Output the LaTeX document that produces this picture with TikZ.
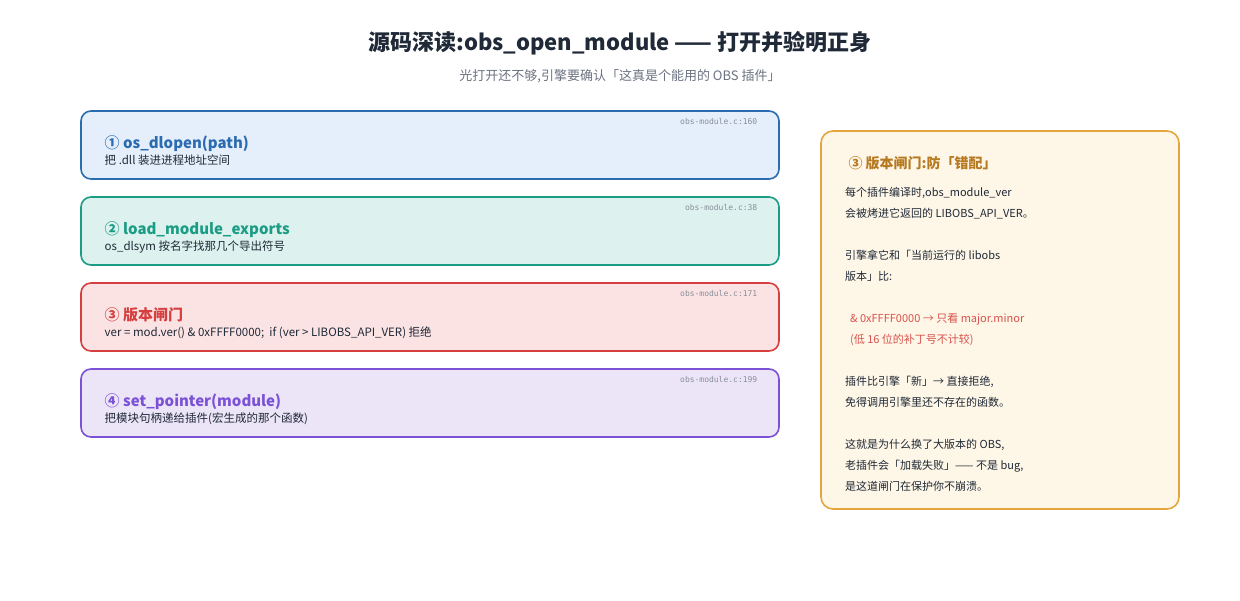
\documentclass[tikz,border=0pt]{standalone}
\usepackage{fontspec}
\setmainfont{Noto Sans CJK SC}
\newfontfamily\codefont{DejaVu Sans Mono}
\usetikzlibrary{positioning}
\definecolor{ink}{HTML}{1F2937}
\definecolor{muted}{HTML}{6B7280}
\definecolor{blueS}{HTML}{2B6CB0}\definecolor{blueF}{HTML}{E4EFFB}
\definecolor{greenS}{HTML}{1B9C84}\definecolor{greenF}{HTML}{DDF2EE}
\definecolor{redS}{HTML}{D63F3F}\definecolor{redF}{HTML}{FBE3E4}
\definecolor{purpS}{HTML}{7B52D6}\definecolor{purpF}{HTML}{ECE5F8}
\definecolor{goldS}{HTML}{E3A63C}\definecolor{goldF}{HTML}{FEF6E6}
\definecolor{goldT}{HTML}{B7791F}
\definecolor{warnT}{HTML}{D9534F}
\begin{document}
\begin{tikzpicture}[x=1pt,y=-1pt,
step/.style = {% left boxes
    draw=#1S, fill=#1F, line width=1.6pt, rounded corners=10pt,
    minimum width=698pt, minimum height=68pt, inner sep=0pt,
            },
ttl/.style  = {anchor=base west, font=\fontsize{15}{18}\selectfont\bfseries, text=#1S},
sub/.style  = {anchor=base west, font=\fontsize{11.5}{14}\selectfont, text=ink},
src/.style  = {anchor=base east, font=\fontsize{8}{10}\codefont, text=muted!80},
                        ]
\useasboundingbox (0,0) rectangle (1240,600);
% heading
\node[font=\fontsize{22}{26}\selectfont\bfseries, text=ink] (head) at (620,43)
  {源码深读:obs\_open\_module —— 打开并验明正身};
\node[font=\fontsize{13}{16}\selectfont, text=muted] (tag) at (620,76)
  {光打开还不够,引擎要确认「这真是个能用的 OBS 插件」};
% steps
\node[step=blue]   (s1) at (430,145) {};
\node[step=green]  (s2) at (430,231) {};
\node[step=red]    (s3) at (430,317) {};
\node[step=purp]   (s4) at (430,403) {};
\foreach \n/\c/\t/\d/\f in {
    s1/blue/{① os\_dlopen(path)}/{把 .dll 装进进程地址空间}/160,
    s2/green/{② load\_module\_exports}/{os\_dlsym 按名字找那几个导出符号}/38,
    s3/red/{③ 版本闸门}/{ver = mod.ver() \& 0xFFFF0000;\ \ if (ver > LIBOBS\_API\_VER) 拒绝}/171,
    s4/purp/{④ set\_pointer(module)}/{把模块句柄递给插件(宏生成的那个函数)}/199}{
  \node[ttl=\c] (\n t) at ([xshift=21pt,yshift=-3pt]\n.west) {\t};
  \node[sub]    (\n d) at ([xshift=21pt,yshift=-19pt]\n.west) {\d};
  \node[src]    (\n f) at ([xshift=-19pt,yshift=-14pt]\n.north east) {obs-module.c:\f};
}
% side note
\node[draw=goldS, fill=goldF, line width=1.6pt, rounded corners=12pt,
      minimum width=358pt, minimum height=378pt] (note) at (1000,320) {};
\node[anchor=base west, font=\fontsize{14}{17}\selectfont\bfseries, text=goldT]
  (notet) at (845,168) {③ 版本闸门:防「错配」};
\node[anchor=north west, align=left, inner sep=0pt, text=ink,
      font=\fontsize{11}{21}\selectfont] (noteb) at (845,187) {%
  每个插件编译时,obs\_module\_ver\\
  会被烤进它返回的 LIBOBS\_API\_VER。\\[21pt]
  引擎拿它和「当前运行的 libobs\\
  版本」比:\\[21pt]
  \textcolor{warnT}{\ \ \& 0xFFFF0000 → 只看 major.minor}\\
  \textcolor{warnT}{\ \ (低 16 位的补丁号不计较)}\\[21pt]
  插件比引擎「新」→ 直接拒绝,\\
  免得调用引擎里还不存在的函数。\\[21pt]
  这就是为什么换了大版本的 OBS,\\
  老插件会「加载失败」—— 不是 bug,\\
  是这道闸门在保护你不崩溃。};
\end{tikzpicture}
\end{document}
